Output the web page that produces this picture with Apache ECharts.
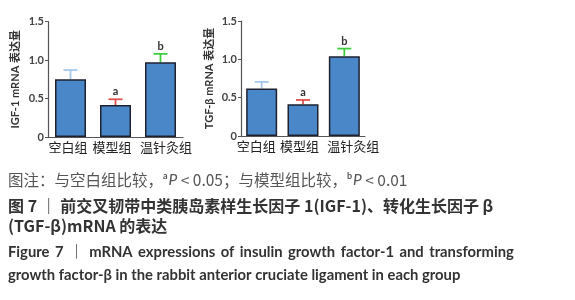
<!DOCTYPE html>
<html>
<head>
<meta charset="utf-8">
<script src="https://cdn.jsdelivr.net/npm/echarts@6/dist/echarts.min.js"></script>
<style>
  html, body { margin: 0; padding: 0; background: #fff; }
  #fig7 { width: 575px; height: 300px; }
</style>
</head>
<body>
<div id="fig7"></div>
<script>
  // 数据
  const categories = ['空白组', '模型组', '温针灸组'];
  const igfMean = [0.75, 0.415, 0.97];
  const igfUpper = [0.87, 0.49, 1.08];
  const tgfMean = [0.62, 0.415, 1.04];
  const tgfUpper = [0.705, 0.47, 1.14];
  const sigMarks = ['', 'a', 'b'];
  const errColors = ['#a6c8ec', '#e0504f', '#3dcc3d'];

  const cjk = '"Noto Sans CJK SC", "Noto Sans", sans-serif';
  const latin = 'Lato, "Noto Sans CJK SC", sans-serif';

  let chart = echarts.init(document.getElementById('fig7'), null, { renderer: 'canvas' });

  function yAxisOf(gridIndex, name, gap) {
    return {
      type: 'value', gridIndex: gridIndex, min: 0, max: 1.5, interval: 0.5,
      name: name, nameLocation: 'middle', nameGap: gap,
      nameTextStyle: { fontFamily: latin, fontSize: 11, fontWeight: 'bold', color: '#333' },
      axisLine: { show: true, lineStyle: { color: '#555', width: 1.2 } },
      axisTick: { show: true, length: 3, lineStyle: { color: '#555' } },
      splitLine: { show: false },
      axisLabel: {
        fontFamily: latin, fontSize: 11, fontWeight: 'bold', color: '#444', margin: 4,
        formatter: v => v === 0 ? '0' : v.toFixed(1)
      }
    };
  }

  // 标签位置略有偏移（同原图）
  function xAxisOf(gridIndex, pads) {
    let rich = {};
    pads.forEach((p, i) => {
      rich['c' + i] = { fontFamily: cjk, fontSize: 13, color: '#222',
        padding: p > 0 ? [0, 0, 0, p] : [0, -p, 0, 0] };
    });
    return {
      type: 'category', gridIndex: gridIndex, data: categories,
      axisLine: { lineStyle: { color: '#555', width: 1.2 } },
      axisTick: { show: false },
      axisLabel: {
        fontFamily: cjk, fontSize: 13, color: '#222', margin: 4, interval: 0, rich: rich,
        formatter: (v, i) => '{c' + i + '|' + v + '}'
      }
    };
  }

  // 误差线 + 显著性标记
  function errSeries(idx, means, uppers) {
    return {
      type: 'custom', xAxisIndex: idx, yAxisIndex: idx, z: 1,
      data: means.map((m, i) => [i, m, uppers[i]]),
      renderItem: function (params, api) {
        let i = api.value(0);
        let base = api.coord([i, api.value(1)]);
        let top = api.coord([i, api.value(2)]);
        let col = errColors[i];
        let children = [
          { type: 'line', shape: { x1: base[0], y1: base[1], x2: top[0], y2: top[1] }, style: { stroke: col, lineWidth: 1.8 } },
          { type: 'line', shape: { x1: top[0] - 7, y1: top[1], x2: top[0] + 7, y2: top[1] }, style: { stroke: col, lineWidth: 1.8 } }
        ];
        if (sigMarks[i]) {
          children.push({
            type: 'text',
            style: { text: sigMarks[i], x: top[0], y: top[1] - 2, align: 'center', verticalAlign: 'bottom',
              font: 'bold 11px ' + latin, fill: '#333' }
          });
        }
        return { type: 'group', children: children };
      }
    };
  }

  function barSeries(idx, means) {
    return {
      type: 'bar', xAxisIndex: idx, yAxisIndex: idx, barWidth: 31, z: 2,
      data: means,
      itemStyle: { color: '#4a87c9', borderColor: '#1e2230', borderWidth: 1.5 }
    };
  }

  // 两端对齐的行：词间加细空格
  const line4 = 'Figure 7 ｜ mRNA expressions of insulin growth factor-1 and transforming'.split(' ').join(' \u2009');

  const capLines = [
    { y: 182, text: '图注：与空白组比较，{sup|a}{i|P} < 0.05；与模型组比较，{sup|b}{i|P} < 0.01', weight: 'normal', color: '#555', size: 15.5, family: cjk },
    { y: 208, text: '图 7 ｜ 前交叉韧带中类胰岛素样生长因子 1(IGF-1)、转化生长因子 β', weight: 'bold', color: '#333', size: 16, family: cjk },
    { y: 228, text: '(TGF-β)mRNA 的表达', weight: 'bold', color: '#333', size: 16, family: cjk },
    { y: 255, text: line4, weight: 'bold', color: '#333', size: 14.8, family: latin },
    { y: 278, text: 'growth factor-β in the rabbit anterior cruciate ligament in each group', weight: 'bold', color: '#333', size: 14.8, family: latin }
  ];

  chart.setOption({
    animation: false,
    grid: [
      { left: 48, top: 21.5, width: 135, height: 115.5 },
      { left: 241, top: 21, width: 124, height: 115 }
    ],
    xAxis: [xAxisOf(0, [-5, -7, 11]), xAxisOf(1, [-11, -7, 18])],
    yAxis: [yAxisOf(0, 'IGF-1 mRNA 表达量', 27), yAxisOf(1, 'TGF-β mRNA 表达量', 26)],
    series: [
      errSeries(0, igfMean, igfUpper), barSeries(0, igfMean),
      errSeries(1, tgfMean, tgfUpper), barSeries(1, tgfMean)
    ],
    graphic: capLines.map(l => ({
      type: 'text', left: 8, top: l.y - 10,
      style: {
        text: l.text, fontFamily: l.family, fontSize: l.size, fontWeight: l.weight, fill: l.color,
        rich: {
          sup: { fontSize: 9, fontWeight: 'bold', verticalAlign: 'top', fill: l.color, fontFamily: latin, padding: [0, 1, 7, 0] },
          i: { fontStyle: 'italic', fontSize: l.size, fill: l.color, fontFamily: latin }
        }
      }
    }))
  });
</script>
</body>
</html>
